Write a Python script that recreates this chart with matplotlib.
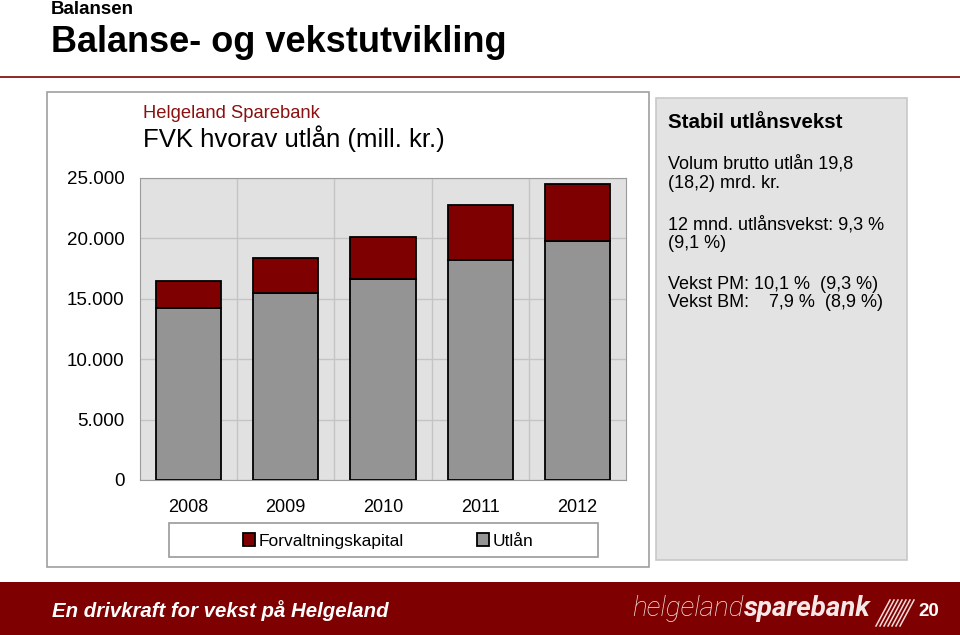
import matplotlib.pyplot as plt
from matplotlib.patches import Rectangle
from matplotlib.lines import Line2D
import numpy as np

plt.rcParams['font.family'] = ['Liberation Sans', 'DejaVu Sans']

# data (mill. kr.)
years = ['2008', '2009', '2010', '2011', '2012']
forvaltningskapital = [16500, 18400, 20100, 22800, 24500]
utlan = [14200, 15450, 16600, 18200, 19800]
yticks = [0, 5000, 10000, 15000, 20000, 25000]

W, H = 960, 635
RED = '#7f0000'


def fx(px):
    return px / W


def fy(py):
    return 1 - py / H


fig = plt.figure(figsize=(9.6, 6.35), dpi=100)

# header
fig.text(fx(51), fy(9), 'Balansen', fontsize=13.5, fontweight='bold', va='center')
fig.text(fx(51), fy(43), 'Balanse- og vekstutvikling', fontsize=26,
         fontweight='bold', va='center')
fig.add_artist(Line2D([0, 1], [fy(77), fy(77)], color=RED, lw=1.2,
                      transform=fig.transFigure))

# chart panel
fig.patches.append(Rectangle((fx(47), fy(567)), fx(602), (567 - 92) / H,
                             transform=fig.transFigure, facecolor='white',
                             edgecolor='#a0a0a0', lw=1.2, zorder=0))
fig.text(fx(143), fy(114), 'Helgeland Sparebank', fontsize=13.2, color='#8b1010',
         va='center')
fig.text(fx(143), fy(139), 'FVK hvorav utlån (mill. kr.)', fontsize=18.5,
         va='center')

ax = fig.add_axes([fx(140), fy(480), fx(486), 302 / H])
ax.set_zorder(2)
ax.set_facecolor('#e1e1e1')
x = np.arange(len(years))
red_part = np.array(forvaltningskapital) - np.array(utlan)
ax.bar(x, utlan, width=0.67, color='#949494', edgecolor='black', lw=1.3,
       label='Utlån', zorder=3)
ax.bar(x, red_part, bottom=utlan, width=0.67, color=RED, edgecolor='black',
       lw=1.3, label='Forvaltningskapital', zorder=3)
ax.set_xlim(-0.5, len(years) - 0.5)
ax.set_ylim(0, 25000)
ax.set_yticks(yticks)
ax.set_yticklabels([f'{v:,}'.replace(',', '.') for v in yticks])
ax.set_xticks(x)
ax.set_xticklabels(years)
ax.tick_params(axis='both', length=0, labelsize=13)
ax.tick_params(axis='y', pad=11, labelsize=13.5)
ax.tick_params(axis='x', pad=14)
ax.set_xticks(np.arange(len(years) - 1) + 0.5, minor=True)
ax.tick_params(which='minor', length=0)
ax.grid(axis='y', color='#c4c4c4', lw=1, zorder=1)
ax.grid(axis='x', which='minor', color='#c4c4c4', lw=1, zorder=1)
for s in ax.spines.values():
    s.set_color('#9a9a9a')

# legend
fig.patches.append(Rectangle((fx(169), fy(557)), fx(429), 34 / H,
                             transform=fig.transFigure, facecolor='white',
                             edgecolor='#9a9a9a', lw=1.2, zorder=1))
h, l = ax.get_legend_handles_labels()
fig.legend(h[::-1], l[::-1], loc='center', bbox_to_anchor=(fx(388), fy(541)),
           ncol=2, frameon=False, fontsize=12.5, handlelength=0.7,
           handleheight=0.7, handletextpad=0.2, columnspacing=4.2)

# right text box
fig.patches.append(Rectangle((fx(656), fy(560)), fx(251), (560 - 98) / H,
                             transform=fig.transFigure, facecolor='#e3e3e3',
                             edgecolor='#c8c8c8', lw=1.2, zorder=0))
fig.text(fx(668), fy(122), 'Stabil utlånsvekst', fontsize=14.8, fontweight='bold',
         va='center')
lines = [(164, 'Volum brutto utlån 19,8'), (184, '(18,2) mrd. kr.'),
         (225, '12 mnd. utlånsvekst: 9,3 %'), (244, '(9,1 %)'),
         (284, 'Vekst PM: 10,1 %  (9,3 %)'), (303, 'Vekst BM:    7,9 %  (8,9 %)')]
for py, t in lines:
    fig.text(fx(668), fy(py), t, fontsize=13, va='center')

# bottom banner
fig.patches.append(Rectangle((0, 0), 1, (H - 582) / H, transform=fig.transFigure,
                             facecolor=RED, edgecolor='none', zorder=0))
fig.text(fx(52), fy(611), 'En drivkraft for vekst på Helgeland', fontsize=14.7,
         fontweight='bold', style='italic', color='white', va='center')
t1 = fig.text(fx(632), fy(609), 'helgeland', fontsize=20, style='italic',
              family='Roboto', weight='light', color='#f6e8e8', va='center')
fig.canvas.draw()
bb = t1.get_window_extent()
fig.text(bb.x1 / W, fy(609), 'sparebank', fontsize=20, style='italic',
         family='Roboto', weight='bold', color='#f6e8e8', va='center')
for i in range(7):
    x0 = 876 + i * 4
    fig.add_artist(Line2D([fx(x0), fx(x0 + 14)], [fy(626), fy(600)],
                          color='#f3dcdc', lw=1.1, transform=fig.transFigure))
fig.text(fx(918), fy(611), '20', fontsize=13.5, fontweight='bold', color='white',
         va='center')

fig.savefig('out.png', dpi=100)
